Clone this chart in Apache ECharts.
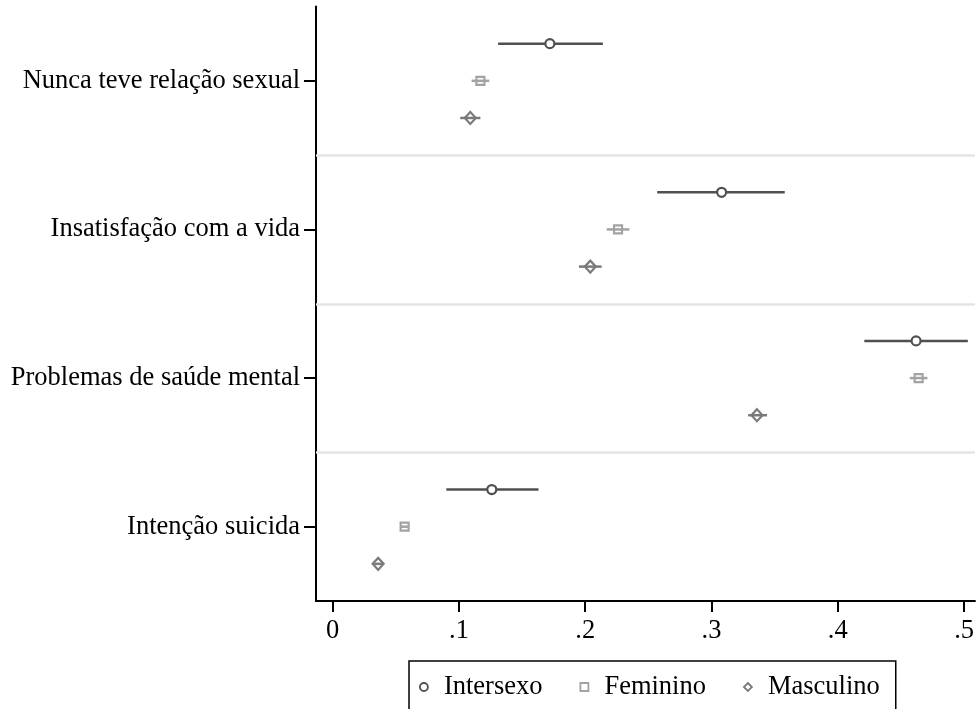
<!DOCTYPE html>
<html>
<head>
<meta charset="utf-8">
<script src="https://cdn.jsdelivr.net/npm/echarts@6/dist/echarts.min.js"></script>
<style>
html,body{margin:0;padding:0;background:#fff;}
#chart{width:977px;height:709px;}
</style>
</head>
<body>
<div id="chart"></div>
<script>
const categories = ["Nunca teve relação sexual", "Insatisfação com a vida", "Problemas de saúde mental", "Intenção suicida"];
const seriesNames = ["Intersexo", "Feminino", "Masculino"];
const xTicks = [0, 0.1, 0.2, 0.3, 0.4, 0.5];
const xTickLabels = ["0", ".1", ".2", ".3", ".4", ".5"];

const intersexo   = [0.172, 0.308, 0.462, 0.126];
const intersexoLo = [0.131, 0.257, 0.421, 0.090];
const intersexoHi = [0.214, 0.358, 0.503, 0.163];

const feminino    = [0.117, 0.226, 0.464, 0.057];
const femininoLo  = [0.110, 0.217, 0.457, 0.054];
const femininoHi  = [0.124, 0.235, 0.471, 0.060];

const masculino   = [0.109, 0.204, 0.336, 0.036];
const masculinoLo = [0.101, 0.195, 0.329, 0.033];
const masculinoHi = [0.117, 0.213, 0.344, 0.039];

const FONT = 'Liberation Serif';
const colors = ['#505050', '#a3a3a3', '#7a7a7a'];
const pointSets = [intersexo, feminino, masculino];
const loSets = [intersexoLo, femininoLo, masculinoLo];
const hiSets = [intersexoHi, femininoHi, masculinoHi];

// each category occupies 4 units on the y scale; rows at 1,2,3 within it
function rowY(g, s) { return 4 * g + 1 + s; }
const groupCenters = categories.map((c, g) => 4 * g + 2);

const chart = echarts.init(document.getElementById('chart'), null, {renderer: 'canvas'});

const series = [];
series.push({
  type: 'scatter', name: '_sep', data: [], silent: true,
  markLine: {
    silent: true, symbol: 'none', animation: false,
    label: {show: false},
    lineStyle: {color: '#e4e4e4', width: 2.5, type: 'solid'},
    data: [{yAxis: 4}, {yAxis: 8}, {yAxis: 12}]
  }
});
seriesNames.forEach((name, s) => {
  series.push({
    type: 'custom', name: name + ' IC', silent: true, z: 2,
    encode: {x: [0, 1], y: 2},
    data: categories.map((c, g) => [loSets[s][g], hiSets[s][g], rowY(g, s)]),
    renderItem: function (params, api) {
      const p1 = api.coord([api.value(0), api.value(2)]);
      const p2 = api.coord([api.value(1), api.value(2)]);
      return {
        type: 'line',
        shape: {x1: p1[0], y1: p1[1], x2: p2[0], y2: p2[1]},
        style: {stroke: colors[s], lineWidth: 2.5}
      };
    }
  });
});
const symbols = ['circle', 'rect', 'diamond'];
const symSizes = [9, 8, [11, 12]];
const fills = ['#ffffff', 'rgba(255,255,255,0)', 'rgba(255,255,255,0)'];
seriesNames.forEach((name, s) => {
  series.push({
    type: 'scatter', name: name, z: 3,
    symbol: symbols[s], symbolSize: symSizes[s],
    itemStyle: {color: fills[s], borderColor: colors[s], borderWidth: 2.2, opacity: 1},
    data: categories.map((c, g) => [pointSets[s][g], rowY(g, s)])
  });
});

const option = {
  animation: false,
  backgroundColor: '#ffffff',
  textStyle: {fontFamily: FONT},
  grid: {left: 316, right: 0, top: 6.5, bottom: 108, containLabel: false},
  xAxis: {
    type: 'value', min: -0.0132, max: 0.5086,
    axisLine: {show: true, onZero: false, lineStyle: {color: '#000', width: 2}},
    axisTick: {show: true, length: 11, customValues: xTicks, lineStyle: {color: '#000', width: 2}},
    axisLabel: {
      show: true, customValues: xTicks, margin: 17,
      fontFamily: FONT, fontSize: 26.5, color: '#000',
      formatter: function (v) {
        const i = xTicks.findIndex(t => Math.abs(t - v) < 1e-9);
        return i >= 0 ? xTickLabels[i] : '';
      }
    },
    splitLine: {show: false}
  },
  yAxis: {
    type: 'value', min: 0, max: 16, inverse: true,
    axisLine: {show: true, onZero: false, lineStyle: {color: '#000', width: 2}},
    axisTick: {show: true, length: 12, customValues: groupCenters, lineStyle: {color: '#000', width: 2}},
    axisLabel: {
      show: true, customValues: groupCenters, margin: 16,
      fontFamily: FONT, fontSize: 26.5, color: '#000',
      formatter: function (v) {
        const g = Math.round((v - 2) / 4);
        return categories[g] || '';
      }
    },
    splitLine: {show: false}
  },
  legend: {
    data: seriesNames,
    left: 409, top: 661,
    orient: 'horizontal',
    padding: [11, 16, 8, 10],
    itemGap: 37,
    itemWidth: 8, itemHeight: 8,
    borderColor: '#000', borderWidth: 1.5,
    itemStyle: {borderWidth: 1.8},
    textStyle: {fontFamily: FONT, fontSize: 26.5, color: '#000', lineHeight: 30, padding: [0, 0, 0, 11]},
    selectedMode: false
  },
  series: series
};
chart.setOption(option);
</script>
</body>
</html>
